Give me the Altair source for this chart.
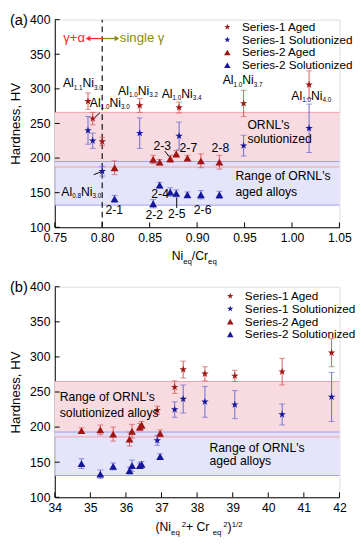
import altair as alt
import pandas as pd

# ---------------- data ----------------
series = ["Series-1 Aged", "Series-1 Solutionized", "Series-2 Aged", "Series-2 Solutionized"]

# Series-1 alloys (Al_x Ni_y)
s1_sub_al = ["0.8", "1.0", "1.1", "1.0", "1.0", "1.0", "1.0"]
s1_sub_ni = ["3.0", "3.0", "3.0", "3.2", "3.4", "3.7", "4.0"]
s1_ratio = [0.800, 0.790, 0.785, 0.8395, 0.881, 0.949, 1.018]
s1_norm = [36.88, 37.37, 37.61, 38.22, 39.06, 40.39, 41.78]
s1_aged = [224, 257, 282, 276, 273, 279, 306]
s1_aged_err = [6, 9, 12, 10, 8, 19, 20]
s1_sol = [181, 225, 240, 236, 232, 218, 243]
s1_sol_err = [7, 11, 20, 22, 20, 15, 35]

# Series-2 alloys, panel (a)
s2_names = ["2-1", "2-2", "2-4", "2-3", "2-5", "2-7", "2-6", "2-8"]
s2_ratio = [0.813, 0.8537, 0.8605, 0.8717, 0.878, 0.8898, 0.904, 0.9235]
s2_aged_a = [186, 198, 194, 199, 206, 200, 196, 194]
s2_aged_err_a = [10, 6, 4, 5, 5, 4, 10, 10]
s2_sol_a = [141, 134, 161, 151, 149, 147, 147, 147]
s2_sol_err_a = [5, 6, 4, 6, 5, 4, 6, 5]

# Series-2 alloys, panel (b)
s2_norm = [34.75, 35.28, 35.64, 36.10, 36.17, 36.39, 36.44, 36.96]
s2_aged_b = [195, 196, 190, 183, 194, 200, 203, 191]
s2_aged_err_b = [4, 7, 10, 10, 10, 5, 5, 5]
s2_sol_b = [148, 133, 144, 138, 145, 145, 147, 158]
s2_sol_err_b = [7, 6, 5, 5, 8, 4, 4, 4]

# ORNL ranges (HV)
ornl_sol_a = [187, 266]
ornl_aged_a = [132, 195]
ornl_sol_b = [186, 265]
ornl_aged_b = [131, 193]

# axes
xticks_a = [0.75, 0.80, 0.85, 0.90, 0.95, 1.00, 1.05]
xticks_b = [34, 35, 36, 37, 38, 39, 40, 41, 42]
yticks = [100, 150, 200, 250, 300, 350, 400]
y_range = [100, 400]

# annotations panel (a)
al_lab_x = [0.7796, 0.808, 0.8378, 0.8837, 0.948, 1.0204, 0.778]
al_lab_y = [308, 280, 297, 293, 312, 290, 151]
al_lab_a = ["1.1", "1.0", "1.0", "1.0", "1.0", "1.0", "0.8"]
al_lab_b = ["3.0", "3.0", "3.2", "3.4", "3.7", "4.0", "3.0"]

s2_lab = ["2-1", "2-2", "2-4", "2-5", "2-6", "2-3", "2-7", "2-8"]
s2_lab_x = [0.8126, 0.8548, 0.861, 0.8786, 0.9058, 0.8633, 0.8908, 0.9245]
s2_lab_y = [125, 117, 148.6, 119.4, 125.5, 217, 214.7, 214.7]

arrow_x = [0.7975, 0.791, 0.866, 0.8785]
arrow_y = [265.6, 176, 210, 128]
arrow_x2 = [0.7925, 0.7985, 0.8705, 0.8785]
arrow_y2 = [259, 180, 202, 143]

txt_a = ["ORNL's", "solutionized", "Range of ORNL's", "aged alloys"]
txt_a_x = [0.953, 0.953, 0.9405, 0.9405]
txt_a_y = [247, 228, 173.6, 151]

txt_b = ["Range of ORNL's", "solutionized alloys", "Range of ORNL's", "aged alloys"]
txt_b_x = [34.14, 34.14, 38.35, 38.35]
txt_b_y = [242.6, 219.5, 169.4, 151]

phase_boundary = 0.80
gamma_y = 372.7
gamma_left_end = 0.785
gamma_right_end = 0.8155

# ---------------- style ----------------
FONT = "Liberation Sans"
AGED = "#a01414"
SOL = "#16169a"
AGED_ERR = "#d25c5c"
SOL_ERR = "#6a6ad2"
STAR = ("M0,-1L0.2245,-0.309L0.951,-0.309L0.363,0.118L0.588,0.809L0,0.382"
        "L-0.588,0.809L-0.363,0.118L-0.951,-0.309L-0.2245,-0.309Z")
SER_COLOR = [AGED, SOL, AGED, SOL]
SER_SHAPE = [STAR, STAR, "triangle-up", "triangle-up"]
W = 292


def points_df(xs1, a1, ae1, s1, se1, xs2, a2, ae2, s2, se2):
    rows = []
    for x, a, ae, s, se in zip(xs1, a1, ae1, s1, se1):
        rows.append(dict(x=x, y=a, lo=a - ae, hi=a + ae, series=series[0], cond="Aged"))
        rows.append(dict(x=x, y=s, lo=s - se, hi=s + se, series=series[1], cond="Sol"))
    for x, a, ae, s, se in zip(xs2, a2, ae2, s2, se2):
        rows.append(dict(x=x, y=a, lo=a - ae, hi=a + ae, series=series[2], cond="Aged"))
        rows.append(dict(x=x, y=s, lo=s - se, hi=s + se, series=series[3], cond="Sol"))
    return pd.DataFrame(rows)


def make_panel(df, H, xdomain, xticks, xfmt, sol_band, aged_band, legend_xy, tag):
    xscale = alt.Scale(domain=xdomain, nice=False, zero=False)
    yscale = alt.Scale(domain=y_range, nice=False, zero=False)
    xaxis = alt.Axis(values=xticks, format=xfmt, title=None, grid=False, ticks=False,
                     labelPadding=5, labelFont=FONT, labelFontSize=12.5, labelColor="black",
                     domainColor="black", labelFlush=False)
    yaxis = alt.Axis(values=yticks, title="Hardness, HV", grid=False, ticks=False,
                     labelPadding=5, labelFont=FONT, labelFontSize=12.5, labelColor="black",
                     titleFont=FONT, titleFontSize=13.5, titleFontWeight="normal",
                     titleColor="black", titlePadding=7, domainColor="black")

    def X(f="x"):
        return alt.X(f"{f}:Q", scale=xscale, axis=xaxis)

    def Y(f="y"):
        return alt.Y(f"{f}:Q", scale=yscale, axis=yaxis)

    layers = []
    # bands
    band_s = pd.DataFrame({"lo": [sol_band[0]], "hi": [sol_band[1]]})
    band_g = pd.DataFrame({"lo": [aged_band[0]], "hi": [aged_band[1]]})
    layers.append(alt.Chart(band_s).mark_rect(color="#f8dbe0").encode(
        x=alt.value(0), x2=alt.value(W), y=Y("lo"), y2=alt.Y2("hi")))
    layers.append(alt.Chart(band_g).mark_rect(color="#dfe1fa", opacity=0.85).encode(
        x=alt.value(0), x2=alt.value(W), y=Y("lo"), y2=alt.Y2("hi")))
    layers.append(alt.Chart(pd.DataFrame({"y": sol_band})).mark_rule(color="#f0a0aa", strokeWidth=1).encode(
        y=Y("y"), x=alt.value(0), x2=alt.value(W)))
    layers.append(alt.Chart(pd.DataFrame({"y": aged_band})).mark_rule(color="#9c9cf0", strokeWidth=1).encode(
        y=Y("y"), x=alt.value(0), x2=alt.value(W)))

    if tag == "(a)":
        vl = pd.DataFrame({"x": [phase_boundary], "lo": [y_range[0]], "hi": [y_range[1]]})
        layers.append(alt.Chart(vl).mark_rule(
            color="#222222", strokeDash=[6, 4], strokeWidth=1.3).encode(
            x=X(), y=Y("lo"), y2=alt.Y2("hi")))

    base = alt.Chart(df)
    for cond, col in (("Sol", SOL_ERR), ("Aged", AGED_ERR)):
        b = base.transform_filter(alt.datum.cond == cond)
        layers.append(b.mark_rule(color=col, strokeWidth=1).encode(x=X(), y=Y("lo"), y2=alt.Y2("hi")))
        layers.append(b.mark_tick(color=col, orient="horizontal", size=6, thickness=1).encode(x=X(), y=Y("hi")))
        layers.append(b.mark_tick(color=col, orient="horizontal", size=6, thickness=1).encode(x=X(), y=Y("lo")))

    layers.append(base.mark_point(filled=True, opacity=1, size=65, strokeWidth=0).encode(
        x=X(), y=Y(),
        color=alt.Color("series:N", scale=alt.Scale(domain=series, range=SER_COLOR), legend=None),
        shape=alt.Shape("series:N", scale=alt.Scale(domain=series, range=SER_SHAPE), legend=None),
    ))

    # manual legend (symbols + labels), one row per series
    one = pd.DataFrame({"k": [0]})
    lx, ly = legend_xy
    for i, name in enumerate(series):
        yy = ly + 13.1 * i
        layers.append(alt.Chart(one).mark_point(
            filled=True, opacity=1, size=45, strokeWidth=0, color=SER_COLOR[i], shape=SER_SHAPE[i]).encode(
            x=alt.value(lx), y=alt.value(yy)))
        layers.append(alt.Chart(one).mark_text(
            font=FONT, fontSize=12, align="left", baseline="middle", color="black").encode(
            text=alt.value(name), x=alt.value(lx + 15), y=alt.value(yy)))

    # inward ticks
    layers.append(alt.Chart(pd.DataFrame({"x": xticks})).mark_rule(color="black").encode(
        x=X(), y=alt.value(H), y2=alt.value(H - 5)))
    layers.append(alt.Chart(pd.DataFrame({"y": yticks})).mark_rule(color="black").encode(
        y=Y(), x=alt.value(0), x2=alt.value(5)))

    # panel tag
    layers.append(alt.Chart(one).mark_text(
        font=FONT, fontSize=15, align="left", baseline="middle", color="black").encode(
        text=alt.value(tag), x=alt.value(-46), y=alt.value(0)))

    if tag == "(a)":
        # Al-Ni labels with subscripts
        lab = pd.DataFrame({"x": al_lab_x, "y": al_lab_y, "a": al_lab_a, "b": al_lab_b})
        lb = alt.Chart(lab)
        main = dict(font=FONT, fontSize=12.5, align="left", baseline="middle", color="black")
        sub = dict(font=FONT, fontSize=6.5, align="left", baseline="middle", color="black", dy=4.5)
        layers.append(lb.mark_text(dx=-20.5, **main).encode(x=X(), y=Y(), text=alt.value("Al")))
        layers.append(lb.mark_text(dx=-9.4, **sub).encode(x=X(), y=Y(), text="a:N"))
        layers.append(lb.mark_text(dx=-0.4, **main).encode(x=X(), y=Y(), text=alt.value("Ni")))
        layers.append(lb.mark_text(dx=11.4, **sub).encode(x=X(), y=Y(), text="b:N"))
        # series-2 labels
        layers.append(alt.Chart(pd.DataFrame({"x": s2_lab_x, "y": s2_lab_y, "t": s2_lab})).mark_text(
            font=FONT, fontSize=12.5, baseline="middle", color="black").encode(x=X(), y=Y(), text="t:N"))
        # arrows
        layers.append(alt.Chart(pd.DataFrame({"x": arrow_x, "y": arrow_y, "x2": arrow_x2, "y2": arrow_y2})).mark_rule(
            color="black", strokeWidth=1).encode(x=X(), y=Y(), x2=alt.X2("x2"), y2=alt.Y2("y2")))
        # region texts
        layers.append(alt.Chart(pd.DataFrame({"x": txt_a_x, "y": txt_a_y, "t": txt_a})).mark_text(
            font=FONT, fontSize=12.5, align="left", baseline="middle", color="black").encode(x=X(), y=Y(), text="t:N"))
        # gamma arrows
        g = pd.DataFrame({"x": [phase_boundary], "x2": [gamma_left_end], "y": [gamma_y]})
        layers.append(alt.Chart(g).mark_rule(color="#ff2a2a", strokeWidth=1.3).encode(x=X(), x2=alt.X2("x2"), y=Y()))
        layers.append(alt.Chart(g).mark_point(shape="triangle-left", filled=True, color="#ff2a2a", size=30, opacity=1).encode(x=X("x2"), y=Y()))
        layers.append(alt.Chart(pd.DataFrame({"x": [gamma_left_end], "y": [gamma_y], "t": ["γ+α"]})).mark_text(
            font=FONT, fontSize=13.5, align="right", baseline="middle", color="#ff2a2a", dx=-3).encode(x=X(), y=Y(), text="t:N"))
        g2 = pd.DataFrame({"x": [phase_boundary], "x2": [gamma_right_end], "y": [gamma_y]})
        layers.append(alt.Chart(g2).mark_rule(color="#8a8a10", strokeWidth=1.3).encode(x=X(), x2=alt.X2("x2"), y=Y()))
        layers.append(alt.Chart(g2).mark_point(shape="triangle-right", filled=True, color="#8a8a10", size=30, opacity=1).encode(x=X("x2"), y=Y()))
        layers.append(alt.Chart(pd.DataFrame({"x": [gamma_right_end], "y": [gamma_y], "t": ["single γ"]})).mark_text(
            font=FONT, fontSize=13.5, align="left", baseline="middle", color="#8a8a10", dx=3).encode(x=X(), y=Y(), text="t:N"))
        # x title: Ni_eq / Cr_eq
        ty = H + 34
        pieces = [("Ni", 12.5, 0, 119.9), ("eq", 8, 4, 131.7), ("/Cr", 12.5, 0, 140.6), ("eq", 8, 4, 157.3)]
    else:
        layers.append(alt.Chart(pd.DataFrame({"x": txt_b_x, "y": txt_b_y, "t": txt_b})).mark_text(
            font=FONT, fontSize=12.5, align="left", baseline="middle", color="black").encode(x=X(), y=Y(), text="t:N"))
        ty = H + 35
        s = 103.3
        pieces = [("(Ni", 12.5, 0, s), ("eq", 8, 4, s + 16), ("2", 8, -5, s + 26.9),
                  (" + Cr", 12.5, 0, s + 31.3), ("eq", 8, 4, s + 58.7), ("2", 8, -5, s + 69.6),
                  (")", 12.5, 0, s + 74), ("1/2", 8, -5, s + 78.2)]

    for txt, fs, dy, px in pieces:
        layers.append(alt.Chart(one).mark_text(
            font=FONT, fontSize=fs, align="left", baseline="alphabetic", color="black", dy=dy).encode(
            text=alt.value(txt), x=alt.value(px), y=alt.value(ty)))

    return alt.layer(*layers).properties(width=W, height=H)


df_a = points_df(s1_ratio, s1_aged, s1_aged_err, s1_sol, s1_sol_err,
                 s2_ratio, s2_aged_a, s2_aged_err_a, s2_sol_a, s2_sol_err_a)
df_b = points_df(s1_norm, s1_aged, s1_aged_err, s1_sol, s1_sol_err,
                 s2_norm, s2_aged_b, s2_aged_err_b, s2_sol_b, s2_sol_err_b)

pa = make_panel(df_a, 213, [0.75, 1.05], xticks_a, ".2f", ornl_sol_a, ornl_aged_a, (177, 7.5), "(a)")
pb = make_panel(df_b, 216, [34, 42], xticks_b, "d", ornl_sol_b, ornl_aged_b, (180, 9.6), "(b)")

chart = alt.vconcat(pa, pb, spacing=12, padding={"left": 0, "top": -3, "right": 0, "bottom": 0}).resolve_scale(
    x="independent", color="independent", shape="independent"
).configure_view(
    stroke="black", strokeWidth=1
).configure(background="white")

chart.save("out.html", embed_options={"renderer": "svg", "actions": False})
